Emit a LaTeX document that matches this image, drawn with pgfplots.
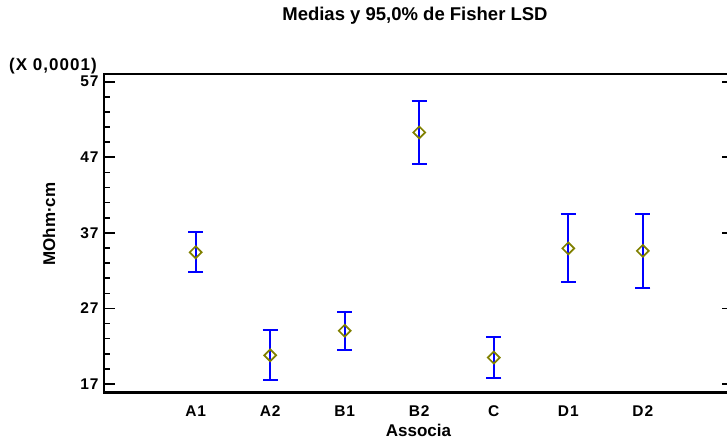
\documentclass[border=0pt]{standalone}
\usepackage{pgfplots}
\pgfplotsset{compat=1.18}
\usepackage{pgfplotstable}
\usepackage{fontspec}
\setmainfont{Liberation Sans}
\newfontfamily\widefont{Liberation Sans}[LetterSpace=6]
\definecolor{barblue}{RGB}{0,0,255}
\definecolor{markolive}{RGB}{128,128,0}
\pgfplotstableread{
x y e
0 34.43 2.65
1 20.80 3.30
2 24.05 2.50
3 50.29 4.19
4 20.50 2.76
5 34.95 4.50
6 34.62 4.90
}\means
\begin{document}
\begin{tikzpicture}
\useasboundingbox (-104pt,-49.5pt) rectangle (623pt,392.5pt);
\begin{axis}[
  at={(0pt,0pt)}, anchor=south west,
  scale only axis, width=629pt, height=318.5pt,
  xmin=-1.23, xmax=7.21, ymin=15.88, ymax=58.02,
  axis line style={line width=2.2pt, black},
  xtick={0,...,6}, xticklabels={A1,A2,B1,B2,C,D1,D2},
  xtick style={draw=none},
  ytick={17,27,37,47,57}, minor y tick num=4,
  ytick pos=both,
  tick align=inside,
  major tick length=11pt, minor tick length=6pt,
  ytick style={line width=1.6pt, black},
  minor tick style={line width=1.6pt, black},
  /pgf/number format/assume math mode=true,
  yticklabel style={font=\widefont\bfseries\fontsize{15.5}{15.5}\selectfont, xshift=-2pt},
  xticklabel style={font=\widefont\bfseries\fontsize{15.5}{15.5}\selectfont, anchor=base, yshift=-23.5pt},
  title={Medias y 95,0\% de Fisher LSD},
  title style={font=\bfseries\fontsize{18.5}{18.5}\selectfont, at={(axis description cs:0.4944,1)}, anchor=base, yshift=47.3pt},
  xlabel={Associa},
  xlabel style={font=\bfseries\fontsize{17}{17}\selectfont, at={(axis description cs:0.5,0)}, anchor=base, yshift=-43.5pt},
  ylabel={MOhm·cm},
  ylabel style={font=\bfseries\fontsize{17}{17}\selectfont, at={(axis description cs:-0.0874,0.529)}, anchor=center, rotate=0},
  clip=false,
]
\addplot[draw=none, mark=none,
  error bars/.cd, y dir=both, y explicit,
  error bar style={draw=barblue, line width=2pt},
  error mark options={rotate=90, draw=barblue, line width=2pt, mark size=7.5pt}]
  table[x=x, y=y, y error=e] {\means};
\addplot[only marks, mark=square, mark size=4.2pt,
  mark options={rotate=45, draw=markolive, line width=1.7pt, fill=none, solid}]
  table[x=x, y=y] {\means};
\end{axis}
\node[font=\widefont\bfseries\fontsize{17}{17}\selectfont, anchor=base west, inner sep=0pt] at (-95pt,321.5pt) {(X 0,0001)};
\end{tikzpicture}
\end{document}
